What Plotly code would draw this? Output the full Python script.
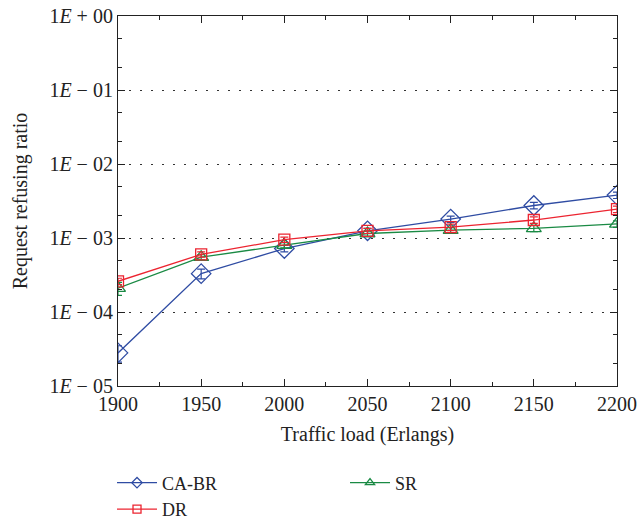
import plotly.graph_objects as go

x = [1900, 1950, 2000, 2050, 2100, 2150, 2200]
ca_br = [2.8e-5, 3.3e-4, 7.2e-4, 1.25e-3, 1.8e-3, 2.75e-3, 3.8e-3]
dr = [2.6e-4, 6.0e-4, 9.5e-4, 1.25e-3, 1.4e-3, 1.75e-3, 2.45e-3]
sr = [2.1e-4, 5.5e-4, 8.0e-4, 1.15e-3, 1.28e-3, 1.35e-3, 1.55e-3]
ca_br_err = [0.25, 0.15, 0.1, 0.08, 0.1, 0.1, 0.1]
dr_err = [0.1, 0.08, 0.08, 0.08, 0.1, 0.1, 0.1]
sr_err = [0.2, 0.08, 0.08, 0.08, 0.08, 0.1, 0.1]

tick_vals = [1, 1e-1, 1e-2, 1e-3, 1e-4, 1e-5]
tick_text = ["1<i>E</i> + 00", "1<i>E</i> − 01", "1<i>E</i> − 02",
             "1<i>E</i> − 03", "1<i>E</i> − 04", "1<i>E</i> − 05"]

FONT = "Liberation Serif"

series = [
    ("CA-BR", ca_br, ca_br_err, "#2f4ca3", "diamond-open", 15, 1),
    ("SR", sr, sr_err, "#1a8a44", "triangle-up-open", 13, 2),
    ("DR", dr, dr_err, "#ec2430", "square-open", 11, 3),
]

fig = go.Figure()
for name, vals, err, color, sym, size, rank in series:
    fig.add_trace(go.Scatter(
        x=x, y=vals, name=name, mode="lines+markers", showlegend=False,
        line=dict(color=color, width=1.3),
        marker=dict(symbol=sym, size=size, color=color, line=dict(width=1.3, color=color)),
        error_y=dict(type="data", array=[v * e for v, e in zip(vals, err)],
                     visible=True, color=color, thickness=1.2, width=4),
    ))
for name, vals, err, color, sym, size, rank in series:
    fig.add_trace(go.Scatter(
        x=[None], y=[None], name=name, mode="lines+markers", showlegend=True,
        line=dict(color=color, width=1.3),
        marker=dict(symbol=sym, size=8, color=color, line=dict(width=1.3, color=color)),
        legendrank=rank,
    ))

fig.update_layout(
    width=637, height=521,
    margin=dict(l=118, r=20, t=16, b=135, autoexpand=False),
    paper_bgcolor="white", plot_bgcolor="white",
    font=dict(family=FONT, size=19, color="#222"),
    showlegend=True,
    legend=dict(orientation="h", x=-0.012, y=-0.212, xanchor="left", yanchor="top",
                entrywidth=178, entrywidthmode="pixels",
                font=dict(family=FONT, size=18), tracegroupgap=0,
                itemwidth=40),
)
fig.update_xaxes(
    range=[1900, 2200], tickvals=[1900, 1950, 2000, 2050, 2100, 2150, 2200],
    ticks="inside", ticklen=7, tickwidth=1, tickcolor="#222",
    minor=dict(ticks="inside", ticklen=4, dtick=25, tickcolor="#222"),
    showline=True, linecolor="#222", linewidth=1.2, mirror="ticks",
    showgrid=False, zeroline=False,
    title=dict(text="Traffic load (Erlangs)", font=dict(family=FONT, size=20), standoff=12),
    tickfont=dict(family=FONT, size=20),
)
fig.update_yaxes(
    type="log", range=[-5, 0], tickvals=tick_vals, ticktext=tick_text,
    ticks="inside", ticklen=7, tickwidth=1, tickcolor="#222",
    minor=dict(ticks="inside", ticklen=4, tickcolor="#222", showgrid=False),
    showline=True, linecolor="#222", linewidth=1.2, mirror="ticks",
    showgrid=True, gridcolor="#333", griddash="2px,9px", gridwidth=1.3,
    zeroline=False,
    title=dict(text="Request refusing ratio", font=dict(family=FONT, size=20), standoff=16),
    tickfont=dict(family=FONT, size=20),
)
fig.write_html("out.html")
